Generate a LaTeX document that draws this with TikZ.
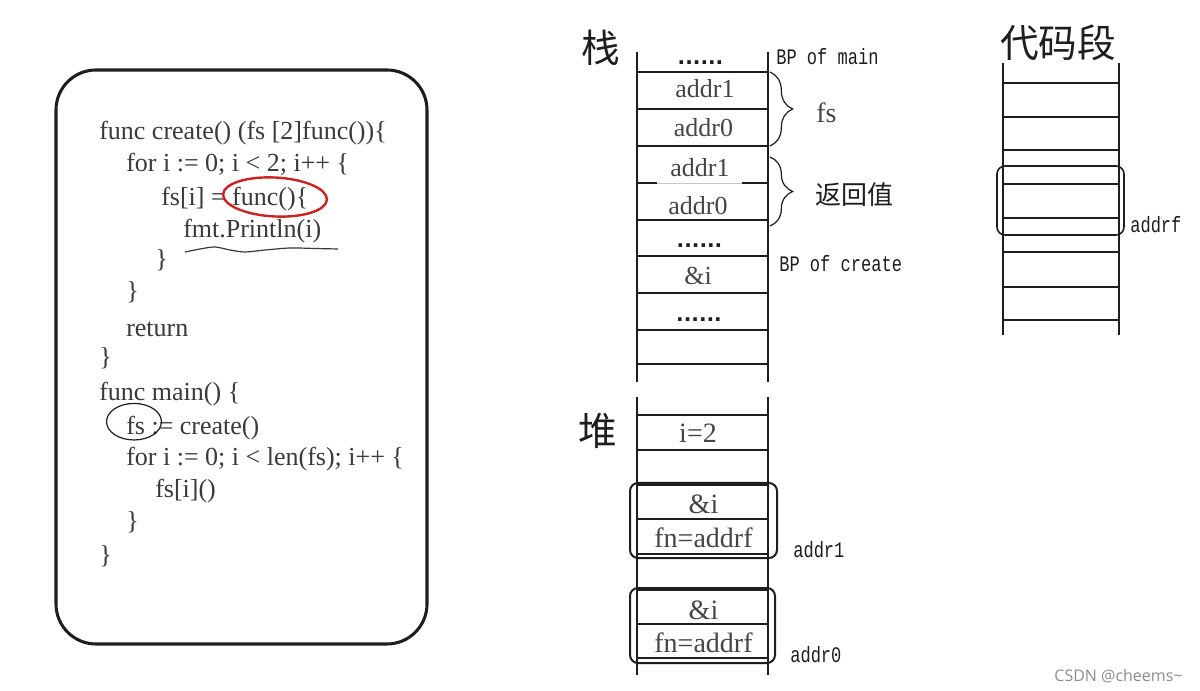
\documentclass[tikz,border=0pt]{standalone}
\usepackage{fontspec}
\setmainfont{Liberation Serif}
\newfontfamily\cjkfont{Noto Sans CJK SC}
\newfontfamily\labfont{Liberation Mono}
\newfontfamily\wmfont{Open Sans}
\newfontfamily\dotfont{DejaVu Sans}
\usetikzlibrary{decorations.pathreplacing}
\definecolor{ink}{HTML}{1E1E1E}
\definecolor{codegray}{HTML}{3A3A3A}
\definecolor{cellgray}{HTML}{454545}
\definecolor{circred}{HTML}{CC2222}
\definecolor{wmgray}{HTML}{8C8C8C}
\newcommand{\tallab}[1]{\scalebox{1}[1.3]{#1}}
\tikzset{
  code/.style={anchor=base west, inner sep=0pt, text=codegray, font=\fontsize{19.5pt}{21pt}\selectfont},
  cell/.style={anchor=base, inner sep=0pt, text=cellgray, font=\fontsize{19.5pt}{21pt}\selectfont},
  heapcell/.style={anchor=base, inner sep=0pt, text=cellgray, font=\fontsize{21pt}{23pt}\selectfont},
  dots/.style={anchor=base, inner sep=0pt, text=ink, font=\dotfont\fontsize{15pt}{17pt}\selectfont\bfseries},
  lab/.style={anchor=base west, inner sep=0pt, text=ink, font=\labfont\fontsize{12.8pt}{14pt}\selectfont},
  title/.style={inner sep=0pt, text=ink, font=\cjkfont\fontsize{29pt}{31pt}\selectfont},
  wall/.style={ink, line width=1.1pt},
  rung/.style={ink, line width=1.1pt},
  grp/.style={ink, line width=1.5pt, rounded corners=6pt},
  bracestyle/.style={ink, line width=0.9pt, decorate, decoration={brace, amplitude=17pt}}
}
\begin{document}
\begin{tikzpicture}[x=0.75pt,y=-0.75pt]
\useasboundingbox[fill=white] (0,0) rectangle (1200,691);

% ---------- code box ----------
\draw[ink, line width=2.3pt, rounded corners=30pt] (56,70) rectangle (427,644);
\node[code] (c1)  at (99,140)  {func create() (fs [2]func())\{};
\node[code] (c2)  at (126,172) {for i := 0; i < 2; i++ \{};
\node[code] (c3)  at (161,206) {fs[i] = func()\{};
\node[code] (c4)  at (183,238) {fmt.Println(i)};
\node[code] (c5)  at (155,268) {\}};
\node[code] (c6)  at (126,300) {\}};
\node[code] (c7)  at (126,337) {return};
\node[code] (c8)  at (99,366)  {\}};
\node[code] (c9)  at (99,401)  {func main() \{};
\node[code] (c10) at (126,435) {fs := create()};
\node[code] (c11) at (126,466) {for i := 0; i < len(fs); i++ \{};
\node[code] (c12) at (155,498) {fs[i]()};
\node[code] (c13) at (126,529) {\}};
\node[code] (c14) at (99,563)  {\}};

\draw[circred, line width=1.8pt, rotate around={-3:(275,197)}] (275,197) ellipse [x radius=39pt, y radius=14.6pt];
\draw[codegray, line width=0.9pt] plot[smooth] coordinates {(185,252) (200,249) (215,247) (230,250) (245,252) (265,250) (290,248) (315,248.5) (338,249)};
\draw[ink, line width=0.9pt] (134,421.7) ellipse [x radius=20.6pt, y radius=13.7pt];

% ---------- stack ----------
\node[title] (zhan) at (601,47.5) {栈};
\draw[wall] (637,52) -- (637,382);
\draw[wall] (768,52) -- (768,382);
\foreach \yy in {72,109,146,220,256,293,330,364} \draw[rung] (637,\yy) -- (768,\yy);
\draw[rung] (637,183) -- (657,183);
\draw[gray!45, line width=0.6pt] (657,183) -- (742,183);
\draw[rung] (742,183) -- (768,183);

\node[dots] (sd1) at (700.5,65) {......};
\node[cell] (s1) at (705,98)  {addr1};
\node[cell] (s2) at (703.5,137) {addr0};
\node[cell] (s3) at (700,177) {addr1};
\node[cell] (s4) at (698,215) {addr0};
\node[dots] (sd2) at (699.5,248) {......};
\node[cell] (s5) at (698,285) {\&i};
\node[dots] (sd3) at (699,322) {......};

\node[lab] (bpmain) at (776,65) {\tallab{BP of main}};
\node[lab] (bpcreate) at (779,272) {\tallab{BP of create}};

\draw[bracestyle] (770,72) -- (770,146);
\draw[bracestyle] (770,157) -- (770,226);
\node[anchor=base west, inner sep=0pt, text=cellgray, font=\fontsize{21pt}{23pt}\selectfont] (fslab) at (816,123) {fs};
\node[inner sep=0pt, text=ink, font=\cjkfont\fontsize{19.5pt}{21pt}\selectfont] (ret) at (854,195) {返回值};

% ---------- heap ----------
\node[title] (dui) at (597.5,430.5) {堆};
\draw[wall] (637,397) -- (637,675);
\draw[wall] (768,397) -- (768,675);
\foreach \yy in {415,450,485,519,554,590,624,658} \draw[rung] (637,\yy) -- (768,\yy);
\draw[grp] (630,483) rectangle (777,558);
\draw[grp] (630,588) rectangle (775,663);
\node[heapcell] (h1) at (698,443) {i=2};
\node[heapcell] (h2) at (703.5,513) {\&i};
\node[heapcell] (h3) at (703.5,547) {fn=addrf};
\node[heapcell] (h4) at (703.5,619) {\&i};
\node[heapcell] (h5) at (703.5,652) {fn=addrf};
\node[lab] (ha1) at (793,557) {\tallab{addr1}};
\node[lab] (ha0) at (790,662) {\tallab{addr0}};

% ---------- code segment ----------
\node[title] (dmd) at (1058,43) {代码段};
\draw[wall] (1003,63) -- (1003,335);
\draw[wall] (1119,63) -- (1119,335);
\foreach \yy in {83,117,150,184,218,252,287,320} \draw[rung] (1003,\yy) -- (1119,\yy);
\draw[ink, line width=1.2pt, rounded corners=6pt] (997,166) rectangle (1124,235);
\node[lab] (af) at (1130,233) {\tallab{addrf}};

% ---------- watermark ----------
\node[inner sep=0pt, text=wmgray, font=\wmfont\fontsize{12pt}{14pt}\selectfont] (wm) at (1118.5,676) {CSDN @cheems\textasciitilde};
\end{tikzpicture}
\end{document}
